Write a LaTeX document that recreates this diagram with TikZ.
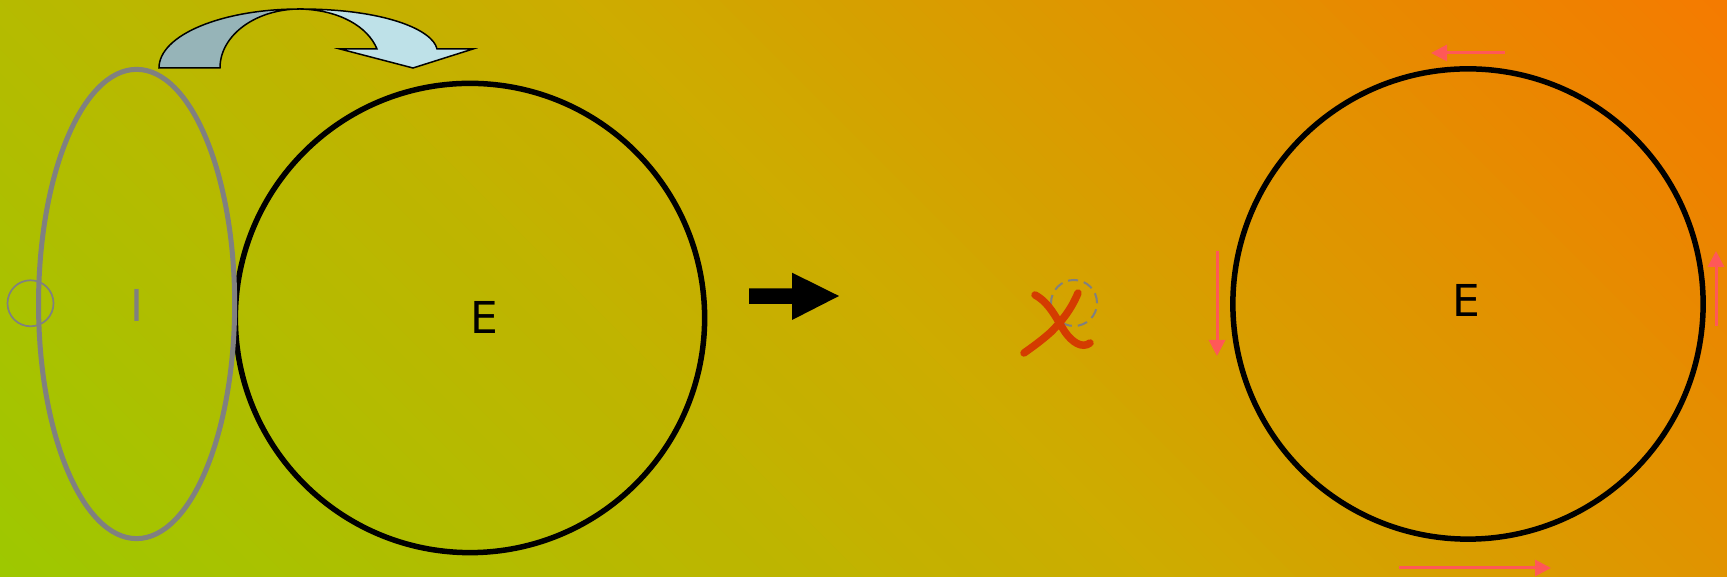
\documentclass[tikz,border=0pt]{standalone}
\usepackage{fontspec}
\usepackage{xcolor}
\usepackage{tikz}
\usetikzlibrary{shapes.geometric,arrows.meta,positioning}
\newfontfamily\labelfont{DejaVu Sans}
\definecolor{bggreen}{RGB}{158,200,0}
\definecolor{bgmid}{RGB}{205,172,0}
\definecolor{bgorange}{RGB}{245,122,0}
\definecolor{ringgray}{RGB}{128,128,128}
\definecolor{markred}{RGB}{212,60,0}
\definecolor{hintred}{RGB}{255,88,88}
\definecolor{bendback}{RGB}{150,180,184}
\definecolor{bendfront}{RGB}{190,225,232}

\begin{document}
\begin{tikzpicture}[
    x=0.01cm, y=-0.01cm,
    ring/.style={circle, draw=black, line width=0.055cm, minimum size=4.69cm, inner sep=0pt},
    oval/.style={ellipse, draw=ringgray, line width=0.05cm, minimum width=1.96cm, minimum height=4.69cm, inner sep=0pt},
    probedot/.style={circle, draw=ringgray, line width=0.017cm, minimum size=0.46cm, inner sep=0pt},
    tag/.style={font=\labelfont\fontsize{12.5}{15}\selectfont, inner sep=0pt},
    flow/.style={-{Triangle[length=0.16cm, width=0.16cm]}, draw=hintred, line width=0.03cm},
    crossout/.style={draw=markred, line width=0.075cm, line cap=round}
]
\useasboundingbox (0,0) rectangle (1727,577);

% background
\begin{scope}
\clip (0,0) rectangle (1727,577);
\foreach \i in {0,...,95}{
  \pgfmathsetmacro{\ua}{\i*24}
  \pgfmathsetmacro{\ub}{\ua+26}
  \ifnum\i<48
    \pgfmathtruncatemacro{\p}{(\i+0.5)*100/48}
    \colorlet{stripcol}{bgmid!\p!bggreen}
  \else
    \pgfmathtruncatemacro{\p}{(\i-47.5)*100/48}
    \colorlet{stripcol}{bgorange!\p!bgmid}
  \fi
  \fill[stripcol] (\ua,577) -- (\ub,577) -- ({\ub-577},0) -- ({\ua-577},0) -- cycle;
}
\end{scope}

% left part
\node[ring] (leftring) at (470,318) {};
\node[oval] (inner) at (136.6,304) {};
\node[probedot] (probe) at (30.5,303.3) {};
\node[tag, text=ringgray] (ilabel) at (136.5,305.5) {I};
\node[tag] (leftE) at (484.5,317) {E};

% bent arrow over the top
\draw[fill=bendback, line width=0.015cm] (159,68) .. controls (159,35) and (222,9) .. (300,9)
    .. controls (256,9) and (220,35) .. (220,68) -- cycle;
\draw[fill=bendfront, line width=0.015cm] (300,9) .. controls (385,9) and (433,30) .. (437,49)
    -- (473,49) -- (413,68) -- (340,49) -- (377,49)
    .. controls (368,27) and (340,10) .. (300,9) -- cycle;

% block arrow
\fill[black] (749,288.3) -- (792,288.3) -- (792,272.7) -- (839,296) -- (792,320)
    -- (792,304) -- (749,304) -- cycle;

% right part
\node[probedot, dashed, dash pattern=on 0.1cm off 0.06cm, line width=0.02cm] (gone) at (1074,303) {};
\draw[crossout] (1035,295) .. controls (1050,303) and (1057,320) .. (1065,332)
    .. controls (1072,342) and (1082,349) .. (1090,343);
\draw[crossout] (1078,293) .. controls (1071,310) and (1061,322) .. (1051,332)
    .. controls (1041,341) and (1031,348) .. (1024,353);

\node[ring, minimum size=4.7cm] (rightring) at (1468,304) {};
\node[tag] (rightE) at (1466,300.5) {E};

\draw[flow] (1505,53) -- (1431,53);
\draw[flow] (1217,251) -- (1217,356);
\draw[flow] (1716,326) -- (1716,251);
\draw[flow] (1399,568) -- (1551,568);

\end{tikzpicture}
\end{document}
